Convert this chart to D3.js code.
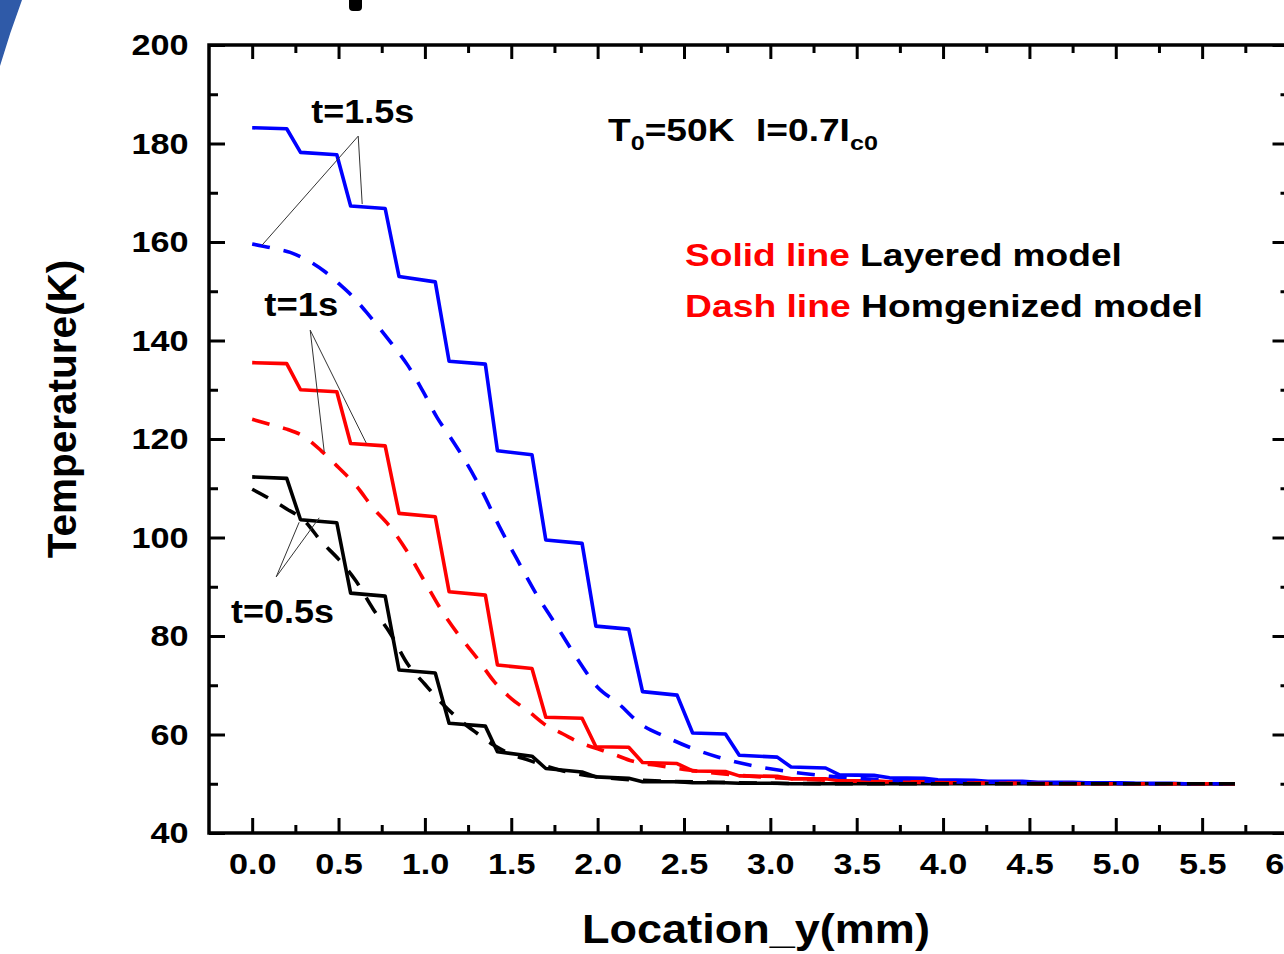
<!DOCTYPE html>
<html>
<head>
<meta charset="utf-8">
<script src="https://cdn.jsdelivr.net/npm/d3@7"></script>
<style>
  body { margin: 0; background: #fff; }
  text { font-family: "Liberation Sans", Arial, sans-serif; font-weight: bold; }
</style>
</head>
<body>
<script>
// flat segments of the layered model (start,end of each layer plateau), mm
var layerX = [0, 0.2, 0.28, 0.49, 0.57, 0.77, 0.85, 1.06, 1.14, 1.35, 1.42, 1.62, 1.70, 1.91, 1.99, 2.18,
  2.26, 2.46, 2.55, 2.74, 2.82, 3.04, 3.12, 3.32, 3.40, 3.60, 3.69, 3.89, 3.97, 4.18, 4.26, 4.46,
  4.55, 4.75, 4.83, 5.03, 5.12, 5.32, 5.40, 5.69];

// layered model, temperature (K)
var blueSolid = [183.2, 183.0, 178.2, 177.7, 167.3, 166.8, 153.0, 151.9, 135.8, 135.2, 117.6, 116.8,
  99.5, 98.8, 82.0, 81.4, 68.7, 68.0, 60.3, 60.1, 55.8, 55.4, 53.4, 53.2, 51.8, 51.7, 51.2, 51.1,
  50.8, 50.7, 50.5, 50.5, 50.3, 50.3, 50.2, 50.2, 50.1, 50.1, 50.0, 50.0];
var redSolid = [135.5, 135.3, 130.0, 129.6, 119.1, 118.6, 104.9, 104.2, 89.0, 88.3, 74.1, 73.4,
  63.5, 63.3, 57.5, 57.4, 54.3, 54.1, 52.6, 52.5, 51.6, 51.5, 51.0, 51.0, 50.6, 50.6, 50.4, 50.4,
  50.2, 50.2, 50.1, 50.1, 50.0, 50.0, 50.0, 50.0, 50.0, 50.0, 50.0, 50.0];
var blackSolid = [112.3, 112.0, 103.6, 103.0, 88.7, 88.1, 73.1, 72.5, 62.3, 61.7, 56.5, 55.6,
  53.1, 52.4, 51.4, 51.1, 50.4, 50.4, 50.2, 50.2, 50.1, 50.1, 50.0, 50.0, 50.0, 50.0, 50.0, 50.0,
  50.0, 50.0, 50.0, 50.0, 50.0, 50.0, 50.0, 50.0, 50.0, 50.0, 50.0, 50.0];

// homogenized model
var blueDashX = [0, 0.11, 0.22, 0.31, 0.42, 0.5, 0.58, 0.66, 0.74, 0.82, 0.9, 0.99, 1.07, 1.15, 1.24,
  1.33, 1.43, 1.53, 1.64, 1.76, 1.88, 2.0, 2.12, 2.25, 2.39, 2.54, 2.7, 2.88, 3.1, 3.35, 3.6, 3.9,
  4.3, 4.8, 5.3, 5.69];
var blueDashY = [159.6, 158.8, 157.9, 156.5, 154.0, 151.6, 149.0, 145.8, 142.4, 138.8, 135.0, 129.6,
  124.4, 120.2, 115.2, 109.5, 102.3, 95.8, 88.8, 82.2, 75.5, 69.6, 66.3, 62.1, 59.6, 57.3, 55.4,
  53.8, 52.5, 51.5, 50.9, 50.5, 50.3, 50.1, 50.0, 50.0];
var redDashX = [0, 0.1, 0.2, 0.3, 0.4, 0.5, 0.6, 0.7, 0.8, 0.9, 1.0, 1.1, 1.2, 1.3, 1.4, 1.5, 1.6, 1.7,
  1.8, 1.9, 2.0, 2.1, 2.2, 2.35, 2.5, 2.7, 2.9, 3.2, 3.5, 3.8, 4.3, 5.0, 5.69];
var redDashY = [124.0, 123.0, 122.0, 120.5, 117.6, 114.2, 110.6, 106.0, 102.1, 97.0, 91.0, 85.0, 80.0,
  75.6, 70.8, 67.3, 64.7, 61.9, 60.1, 58.3, 57.1, 55.9, 54.6, 53.7, 52.9, 52.1, 51.5, 50.9, 50.5,
  50.3, 50.1, 50.0, 50.0];
var blackDashX = [0, 0.1, 0.2, 0.3, 0.4, 0.5, 0.6, 0.7, 0.8, 0.9, 1.0, 1.1, 1.2, 1.3, 1.4, 1.5, 1.6,
  1.7, 1.8, 1.9, 2.0, 2.2, 2.4, 2.7, 3.0, 3.5, 5.69];
var blackDashY = [109.8, 107.9, 105.8, 103.5, 99.2, 95.6, 91.2, 85.5, 80.5, 74.3, 70.2, 66.3, 63.0,
  60.3, 57.8, 56.0, 54.8, 53.6, 52.6, 51.9, 51.4, 50.8, 50.5, 50.3, 50.1, 50.0, 50.0];

// axis ticks
var xMajor = [0, 0.5, 1, 1.5, 2, 2.5, 3, 3.5, 4, 4.5, 5, 5.5, 6];
var xMinor = [0.25, 0.75, 1.25, 1.75, 2.25, 2.75, 3.25, 3.75, 4.25, 4.75, 5.25, 5.75];
var yMajor = [40, 60, 80, 100, 120, 140, 160, 180, 200];
var yMinor = [50, 70, 90, 110, 130, 150, 170, 190];

// callouts: label position and leader lines (data units)
var callouts = [
  { label: "t=1.5s", at: [0.342, 184.2], width: 103, apex: [0.614, 181.5], ends: [[0.058, 159.4], [0.637, 167.7]] },
  { label: "t=1s", at: [0.07, 145.0], width: 74, apex: [0.336, 142.1], ends: [[0.417, 117.4], [0.66, 119.2]] },
  { label: "t=0.5s", at: [-0.122, 82.6], width: 103, apex: [0.139, 92.0], ends: [[0.272, 103.1], [0.388, 104.0]] }
];

var width = 1284, height = 954;

var xScale = d3.scaleLinear().domain([-0.25, 6.0]).range([209, 1288.5]);
var yScale = d3.scaleLinear().domain([40, 200]).range([833, 45]);

var svg = d3.select("body").append("svg")
  .attr("width", width)
  .attr("height", height);

svg.append("rect").attr("width", width).attr("height", height).attr("fill", "#fff");

// bits of the slide behind the chart
svg.append("path")
  .attr("d", "M0,0 L22,0 Q10,32 0,66 Z")
  .attr("fill", "#2f5aa8");
svg.append("rect")
  .attr("x", 349).attr("y", -6).attr("width", 13).attr("height", 17).attr("rx", 4)
  .attr("fill", "#000");

function stepPoints(xs, ys) {
  return xs.map(function(d, i) { return [d, ys[i]]; });
}

var line = d3.line()
  .x(function(d) { return xScale(d[0]); })
  .y(function(d) { return yScale(d[1]); });

var smooth = d3.line()
  .x(function(d) { return xScale(d[0]); })
  .y(function(d) { return yScale(d[1]); })
  .curve(d3.curveMonotoneX);

// solid lines (layered model)
[[blueSolid, "#0000ff"], [redSolid, "#ff0000"], [blackSolid, "#000000"]].forEach(function(s) {
  svg.append("path")
    .datum(stepPoints(layerX, s[0]))
    .attr("d", line)
    .attr("fill", "none")
    .attr("stroke", s[1])
    .attr("stroke-width", 3.6)
    .attr("stroke-linejoin", "round");
});

// dashed lines (homogenized model)
[[blueDashX, blueDashY, "#0000ff"], [redDashX, redDashY, "#ff0000"], [blackDashX, blackDashY, "#000000"]].forEach(function(s) {
  svg.append("path")
    .datum(stepPoints(s[0], s[1]))
    .attr("d", smooth)
    .attr("fill", "none")
    .attr("stroke", s[2])
    .attr("stroke-width", 3.6)
    .attr("stroke-dasharray", "18,14");
});

// axes: ticks point inward on all four sides
function axisStyle(g, w) {
  g.select(".domain").remove();
  g.selectAll(".tick line").attr("stroke", "#000").attr("stroke-width", w);
}

svg.append("g")
  .attr("transform", "translate(0," + yScale(40) + ")")
  .call(d3.axisBottom(xScale).tickValues(xMajor).tickSizeInner(-15).tickSizeOuter(0)
    .tickPadding(20).tickFormat(d3.format(".1f")))
  .call(axisStyle, 3);
svg.append("g")
  .attr("transform", "translate(0," + yScale(40) + ")")
  .call(d3.axisBottom(xScale).tickValues(xMinor).tickSizeInner(-8).tickSizeOuter(0).tickFormat(""))
  .call(axisStyle, 3);
svg.append("g")
  .attr("transform", "translate(0," + yScale(200) + ")")
  .call(d3.axisTop(xScale).tickValues(xMajor).tickSizeInner(-14).tickSizeOuter(0).tickFormat(""))
  .call(axisStyle, 3);
svg.append("g")
  .attr("transform", "translate(0," + yScale(200) + ")")
  .call(d3.axisTop(xScale).tickValues(xMinor).tickSizeInner(-8).tickSizeOuter(0).tickFormat(""))
  .call(axisStyle, 3);

svg.append("g")
  .attr("transform", "translate(" + xScale(-0.25) + ",0)")
  .call(d3.axisLeft(yScale).tickValues(yMajor).tickSizeInner(-16).tickSizeOuter(0)
    .tickPadding(18).tickFormat(d3.format("d")))
  .call(axisStyle, 3);
svg.append("g")
  .attr("transform", "translate(" + xScale(-0.25) + ",0)")
  .call(d3.axisLeft(yScale).tickValues(yMinor).tickSizeInner(-9).tickSizeOuter(0).tickFormat(""))
  .call(axisStyle, 3);
svg.append("g")
  .attr("transform", "translate(" + xScale(6) + ",0)")
  .call(d3.axisRight(yScale).tickValues(yMajor).tickSizeInner(-16).tickSizeOuter(0).tickFormat(""))
  .call(axisStyle, 3);
svg.append("g")
  .attr("transform", "translate(" + xScale(6) + ",0)")
  .call(d3.axisRight(yScale).tickValues(yMinor).tickSizeInner(-8).tickSizeOuter(0).tickFormat(""))
  .call(axisStyle, 3);

svg.selectAll(".tick text")
  .attr("fill", "#000")
  .style("font-size", "30px")
  .style("font-family", "'Liberation Sans', Arial, sans-serif")
  .style("font-weight", "bold")
  .attr("transform", "scale(1.14,1)");

// plot frame
svg.append("rect")
  .attr("x", xScale(-0.25))
  .attr("y", yScale(200))
  .attr("width", xScale(6) - xScale(-0.25))
  .attr("height", yScale(40) - yScale(200))
  .attr("fill", "none")
  .attr("stroke", "#000")
  .attr("stroke-width", 3.5);

// text placed at (px,py) and stretched horizontally to a target width
function stretchedText(px, py, w, fontSize, build) {
  var g = svg.append("g").attr("transform", "translate(" + px + "," + py + ")");
  var t = g.append("text").style("font-size", fontSize + "px").attr("fill", "#000");
  build(t);
  var bw = t.node().getBBox().width;
  g.attr("transform", "translate(" + px + "," + py + ") scale(" + (w / bw) + ",1)");
  return t;
}

// callouts
callouts.forEach(function(c) {
  c.ends.forEach(function(e) {
    svg.append("line")
      .attr("x1", xScale(c.apex[0])).attr("y1", yScale(c.apex[1]))
      .attr("x2", xScale(e[0])).attr("y2", yScale(e[1]))
      .attr("stroke", "#333").attr("stroke-width", 1);
  });
  stretchedText(xScale(c.at[0]), yScale(c.at[1]), c.width, 34, function(t) { t.text(c.label); });
});

// condition text
stretchedText(608, 141, 270, 31, function(t) {
  t.append("tspan").text("T");
  t.append("tspan").attr("dy", 9).style("font-size", "21px").text("0");
  t.append("tspan").attr("dy", -9).text("=50K");
  t.append("tspan").attr("dx", 18).text("I=0.7I");
  t.append("tspan").attr("dy", 9).style("font-size", "21px").text("c0");
});

// line-style legend
stretchedText(685, 266, 437, 32, function(t) {
  t.append("tspan").attr("fill", "#ff0000").text("Solid line ");
  t.append("tspan").text("Layered model");
});
stretchedText(685, 317, 518, 32, function(t) {
  t.append("tspan").attr("fill", "#ff0000").text("Dash line ");
  t.append("tspan").text("Homgenized model");
});

// axis titles
stretchedText(582, 943, 348, 41, function(t) { t.text("Location_y(mm)"); });

svg.append("text")
  .attr("transform", "translate(76,409) rotate(-90)")
  .attr("text-anchor", "middle")
  .style("font-size", "40.5px")
  .attr("fill", "#000")
  .text("Temperature(K)");
</script>
</body>
</html>
